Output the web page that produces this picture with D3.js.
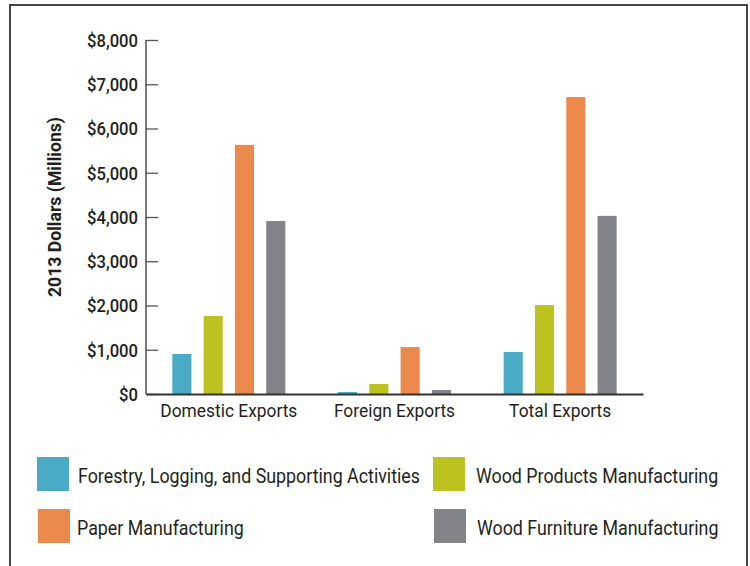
<!DOCTYPE html>
<html>
<head>
<meta charset="utf-8">
<script src="https://cdn.jsdelivr.net/npm/d3@7"></script>
<style>
  html, body { margin: 0; padding: 0; background: #fff; }
  svg { display: block; }
  text { font-family: Roboto, "Liberation Sans", sans-serif; fill: #231f20; }
</style>
</head>
<body>
<svg id="chart" width="750" height="566"></svg>
<script>
// Export categories along the x axis
const categories = ["Domestic Exports", "Foreign Exports", "Total Exports"];

// Industry series (legend order)
const seriesNames = [
  "Forestry, Logging, and Supporting Activities",
  "Wood Products Manufacturing",
  "Paper Manufacturing",
  "Wood Furniture Manufacturing"
];
const seriesColors = ["#4aabc7", "#bcc21f", "#eb884c", "#838489"];

// Values in millions of 2013 dollars, one array per industry
const forestryValues  = [905, 45, 950];
const woodProdValues  = [1765, 225, 2010];
const paperValues     = [5630, 1060, 6710];
const furnitureValues = [3910, 90, 4025];
const seriesValues = [forestryValues, woodProdValues, paperValues, furnitureValues];

// Y axis tick values
const yTicks = [0, 1000, 2000, 3000, 4000, 5000, 6000, 7000, 8000];

const svg = d3.select("#chart");

// Squeeze a set of labels horizontally so they read like a condensed face.
// The factor is taken from one sample label and its wanted width.
function condense(sel, sampleNode, wantedWidth) {
  const f = wantedWidth / sampleNode.getComputedTextLength();
  sel.each(function () {
    const L = this.getComputedTextLength();
    d3.select(this)
      .attr("textLength", L * f)
      .attr("lengthAdjust", "spacingAndGlyphs");
  });
}

// Outer frame
svg.append("rect")
  .attr("x", 10).attr("y", 5)
  .attr("width", 737).attr("height", 580)
  .attr("fill", "none")
  .attr("stroke", "#333")
  .attr("stroke-width", 1.8);

const plot = { left: 146, right: 643, top: 40, bottom: 394 };

const x0 = d3.scaleBand()
  .domain(categories)
  .range([plot.left, plot.right])
  .padding(0);

const x1 = d3.scaleBand()
  .domain(d3.range(seriesNames.length))
  .range([0, 113])
  .paddingInner(0.39)
  .paddingOuter(0);

const y = d3.scaleLinear()
  .domain([0, 8000])
  .range([plot.bottom, plot.top]);

// Bars
const groups = svg.append("g").selectAll("g")
  .data(categories)
  .join("g")
  .attr("transform", d => `translate(${x0(d) + (x0.bandwidth() - 113) / 2},0)`);

groups.selectAll("rect")
  .data((c, ci) => seriesValues.map((vals, si) => ({ si, v: vals[ci] })))
  .join("rect")
  .attr("x", d => x1(d.si))
  .attr("width", x1.bandwidth())
  .attr("y", d => y(d.v))
  .attr("height", d => y(0) - y(d.v))
  .attr("fill", d => seriesColors[d.si]);

// Y axis with inward ticks
const yAxis = d3.axisRight(y)
  .tickValues(yTicks)
  .tickSize(12)
  .tickFormat(d => "$" + d3.format(",")(d));

const yg = svg.append("g")
  .attr("transform", `translate(${plot.left},0)`)
  .call(yAxis);
yg.select(".domain").remove();
yg.selectAll(".tick line").attr("stroke", "#555").attr("stroke-width", 1.3);
const yLabels = yg.selectAll(".tick text")
  .attr("x", -8)
  .attr("dy", "0.36em")
  .attr("text-anchor", "end")
  .style("font-size", "18px")
  .style("font-weight", "500")
  .style("fill", "#231f20");
condense(yLabels, yLabels.nodes()[yLabels.size() - 1], 51);

svg.append("line")
  .attr("x1", plot.left).attr("x2", plot.left)
  .attr("y1", plot.top).attr("y2", plot.bottom)
  .attr("stroke", "#333").attr("stroke-width", 1.3);

// X axis baseline and category labels
const xAxis = d3.axisBottom(x0).tickSize(0).tickPadding(0);
const xg = svg.append("g")
  .attr("transform", `translate(0,${plot.bottom})`)
  .call(xAxis);
xg.select(".domain").attr("stroke", "#333").attr("stroke-width", 2);
const xLabels = xg.selectAll(".tick text")
  .attr("y", 23)
  .attr("dy", 0)
  .style("font-size", "18px")
  .style("fill", "#231f20");
condense(xLabels, xLabels.nodes()[0], 137);

// Y axis title
const yTitle = svg.append("text")
  .attr("transform", `translate(61,207) rotate(-90)`)
  .attr("text-anchor", "middle")
  .style("font-size", "18px")
  .style("font-weight", "bold")
  .text("2013 Dollars (Millions)");
condense(yTitle, yTitle.node(), 180);

// Legend
const legendPos = [
  { x: 37, y: 457 },
  { x: 433, y: 457 },
  { x: 38, y: 509 },
  { x: 434, y: 509 }
];
const legend = svg.append("g").selectAll("g")
  .data(seriesNames)
  .join("g")
  .attr("transform", (d, i) => `translate(${legendPos[i].x},${legendPos[i].y})`);

legend.append("rect")
  .attr("width", 32).attr("height", 34)
  .attr("fill", (d, i) => seriesColors[i]);

const legendText = legend.append("text")
  .attr("x", (d, i) => i === 2 ? 39 : (i % 2 === 0 ? 41 : 43))
  .attr("y", 26)
  .style("font-size", "19.5px")
  .text(d => d);
condense(legendText, legendText.nodes()[0], 342);
</script>
</body>
</html>
